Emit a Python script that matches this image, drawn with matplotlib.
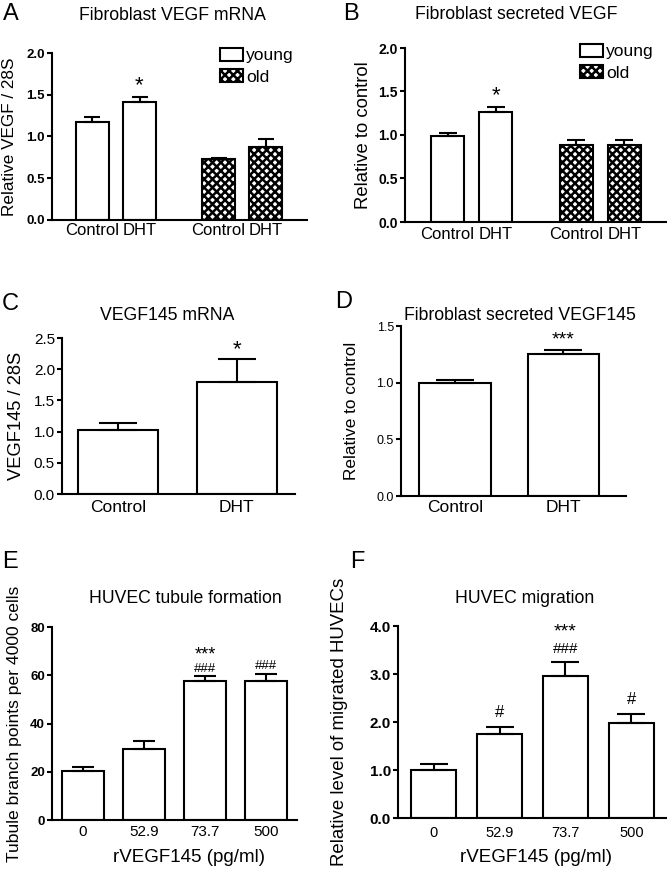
import numpy as np
import matplotlib
matplotlib.use("Agg")
import matplotlib.pyplot as plt

W, H = 667, 871
plt.rcParams["font.family"] = ["Liberation Sans", "DejaVu Sans"]
plt.rcParams["hatch.linewidth"] = 1.8

# ---- data ----
ab_groups = ["Control", "DHT", "Control", "DHT"]
series = ["young", "old"]

a_young = [1.17, 1.41]
a_young_err = [0.067, 0.063]
a_old = [0.727, 0.87]
a_old_err = [0.02, 0.10]

b_young = [0.99, 1.27]
b_young_err = [0.035, 0.05]
b_old = [0.89, 0.89]
b_old_err = [0.057, 0.057]

cd_groups = ["Control", "DHT"]
c_vals = [1.02, 1.79]
c_err = [0.11, 0.38]
d_vals = [1.00, 1.25]
d_err = [0.02, 0.04]

dose_labels = ["0", "52.9", "73.7", "500"]
e_vals = [20.4, 29.4, 57.5, 57.7]
e_err = [1.4, 3.2, 2.1, 2.9]
f_vals = [1.01, 1.75, 2.96, 1.985]
f_err = [0.115, 0.15, 0.28, 0.185]

fig = plt.figure(figsize=(W / 100, H / 100), dpi=100)


def add_ax(l, r, top, bot):
    ax = fig.add_axes([l / W, 1 - bot / H, (r - l) / W, (bot - top) / H])
    ax._px = (l, r, top, bot)
    return ax


def style(ax, yticks, fmt, tsize, bold, xpad):
    for s in ("top", "right"):
        ax.spines[s].set_visible(False)
    for s in ("left", "bottom"):
        ax.spines[s].set_linewidth(1.5)
    ax.set_ylim(0, yticks[-1])
    ax.set_yticks(yticks)
    ax.set_yticklabels([fmt.format(v) for v in yticks], fontsize=tsize,
                       fontweight="bold" if bold else "normal")
    ax.tick_params(axis="y", direction="out", length=3.6, width=1.5, pad=1.5)
    ax.tick_params(axis="x", length=0, pad=xpad)


def bars(ax, x, vals, err, width, cs, hatch=None, label=None):
    b = ax.bar(x, vals, width, color="white", edgecolor="black", linewidth=1.5,
               hatch=hatch, label=label, zorder=2)
    ax.errorbar(x, vals, yerr=[np.zeros(len(vals)), err], fmt="none",
                ecolor="black", elinewidth=1.5, capsize=cs, capthick=1.5, zorder=3)
    return b


def mark(ax, x, y, s, size, dy):
    # dy: offset above the error-bar cap, in points
    ax.annotate(s, (x, y), xytext=(0, dy), textcoords="offset points",
                ha="center", va="bottom", fontsize=size)


def labels(ax, title, title_px, ylabel, ylabel_px, ysize):
    l, r, top, bot = ax._px
    ax.set_title(title, x=(title_px[0] - l) / (r - l),
                 y=(bot - title_px[1]) / (bot - top), va="baseline",
                 fontsize=12.7, pad=0)
    ax.set_ylabel(ylabel, fontsize=ysize, va="center")
    ax.yaxis.set_label_coords((ylabel_px - l) / (r - l), 0.5)


def legend(ax, px, py):
    ax.legend(loc="upper left", bbox_to_anchor=(px / W, 1 - py / H),
              bbox_transform=fig.transFigure, frameon=False, fontsize=12.5,
              borderpad=0, borderaxespad=0, handlelength=1.3, handleheight=0.75,
              handletextpad=0.2, labelspacing=0.35)


# ---- A ----
ax = add_ax(52, 307, 53, 220)
xa = np.array([0, 1, 2.68, 3.68])
bars(ax, xa[:2], a_young, a_young_err, 0.7, 6.1, label=series[0])
bars(ax, xa[2:], a_old, a_old_err, 0.7, 6.1, hatch="xxxx", label=series[1])
ax.set_xlim(-0.86, 4.56)
ax.set_xticks(xa, ab_groups, fontsize=12)
style(ax, [0.0, 0.5, 1.0, 1.5, 2.0], "{:.1f}", 9.5, True, 2.5)
labels(ax, "Fibroblast VEGF mRNA", (172, 20), "Relative VEGF / 28S", 10, 12.3)
mark(ax, xa[1], a_young[1] + a_young_err[1], "*", 16, 0.8)
legend(ax, 220, 48)

# ---- B ----
ax = add_ax(405, 667, 48, 222)
bars(ax, xa[:2], b_young, b_young_err, 0.69, 6.8, label=series[0])
bars(ax, xa[2:], b_old, b_old_err, 0.69, 6.8, hatch="xxxx", label=series[1])
ax.set_xlim(-0.885, 4.57)
ax.set_xticks(xa, ab_groups, fontsize=12)
style(ax, [0.0, 0.5, 1.0, 1.5, 2.0], "{:.1f}", 10, True, 3.6)
labels(ax, "Fibroblast secreted VEGF", (516, 19), "Relative to control", 363, 13.3)
mark(ax, xa[1], b_young[1] + b_young_err[1], "*", 16, 0.8)
legend(ax, 580, 44)

# ---- C ----
ax = add_ax(62, 295, 338, 494)
xc = np.arange(len(cd_groups))
bars(ax, xc, c_vals, c_err, 0.675, 13.7)
ax.set_xlim(-0.47, 1.49)
ax.set_xticks(xc, cd_groups, fontsize=12.5)
style(ax, [0.0, 0.5, 1.0, 1.5, 2.0, 2.5], "{:.1f}", 11, False, 4.3)
labels(ax, "VEGF145 mRNA", (167, 320), "VEGF145 / 28S", 17, 13.2)
mark(ax, xc[1], c_vals[1] + c_err[1], "*", 16, -1.3)

# ---- D ----
ax = add_ax(401, 626, 326, 496)
bars(ax, xc, d_vals, d_err, 0.66, 13.7)
ax.set_xlim(-0.5, 1.58)
ax.set_xticks(xc, cd_groups, fontsize=12.5)
style(ax, [0.0, 0.5, 1.0, 1.5], "{:.1f}", 9, False, 3)
labels(ax, "Fibroblast secreted VEGF145", (520, 320), "Relative to control", 351, 12.4)
mark(ax, xc[1], d_vals[1] + d_err[1], "***", 14, 0.7)

# ---- E ----
ax = add_ax(52, 297, 627, 820)
xe = np.arange(len(dose_labels))
bars(ax, xe, e_vals, e_err, 0.69, 7.9)
ax.set_xlim(-0.51, 3.51)
ax.set_xticks(xe, dose_labels, fontsize=11)
style(ax, [0, 20, 40, 60, 80], "{:.0f}", 9.5, True, 3.6)
labels(ax, "HUVEC tubule formation", (185, 603), "Tubule branch points per 4000 cells", 15, 12.6)
ax.set_xlabel("rVEGF145 (pg/ml)", fontsize=13.5, va="top")
ax.xaxis.set_label_coords((189 - 52) / 245, (820 - 849) / 193)
mark(ax, xe[2], e_vals[2] + e_err[2], "###", 9.5, 1)
mark(ax, xe[2], e_vals[2] + e_err[2], "***", 13, 9.4)
mark(ax, xe[3], e_vals[3] + e_err[3], "###", 9.5, 1)

# ---- F ----
ax = add_ax(398, 667, 626, 818)
bars(ax, xe, f_vals, f_err, 0.68, 10)
ax.set_xlim(-0.54, 3.54)
ax.set_xticks(xe, dose_labels, fontsize=10.5)
style(ax, [0.0, 1.0, 2.0, 3.0, 4.0], "{:.1f}", 11, True, 5.5)
labels(ax, "HUVEC migration", (525, 603), "Relative level of migrated HUVECs", 340, 13.4)
ax.set_xlabel("rVEGF145 (pg/ml)", fontsize=13.5, va="top")
ax.xaxis.set_label_coords((536 - 398) / 269, (818 - 849) / 192)
mark(ax, xe[1], f_vals[1] + f_err[1], "#", 12, 5)
mark(ax, xe[2], f_vals[2] + f_err[2], "###", 11, 5)
mark(ax, xe[2], f_vals[2] + f_err[2], "***", 14, 15.7)
mark(ax, xe[3], f_vals[3] + f_err[3], "#", 12, 5)

# panel letters
for s, px, py in [("A", 3, 20), ("B", 343, 20), ("C", 2, 310),
                  ("D", 335, 308), ("E", 2, 568), ("F", 350, 568)]:
    fig.text(px / W, 1 - py / H, s, fontsize=17, ha="left", va="baseline")

fig.savefig("out.png", dpi=100)
